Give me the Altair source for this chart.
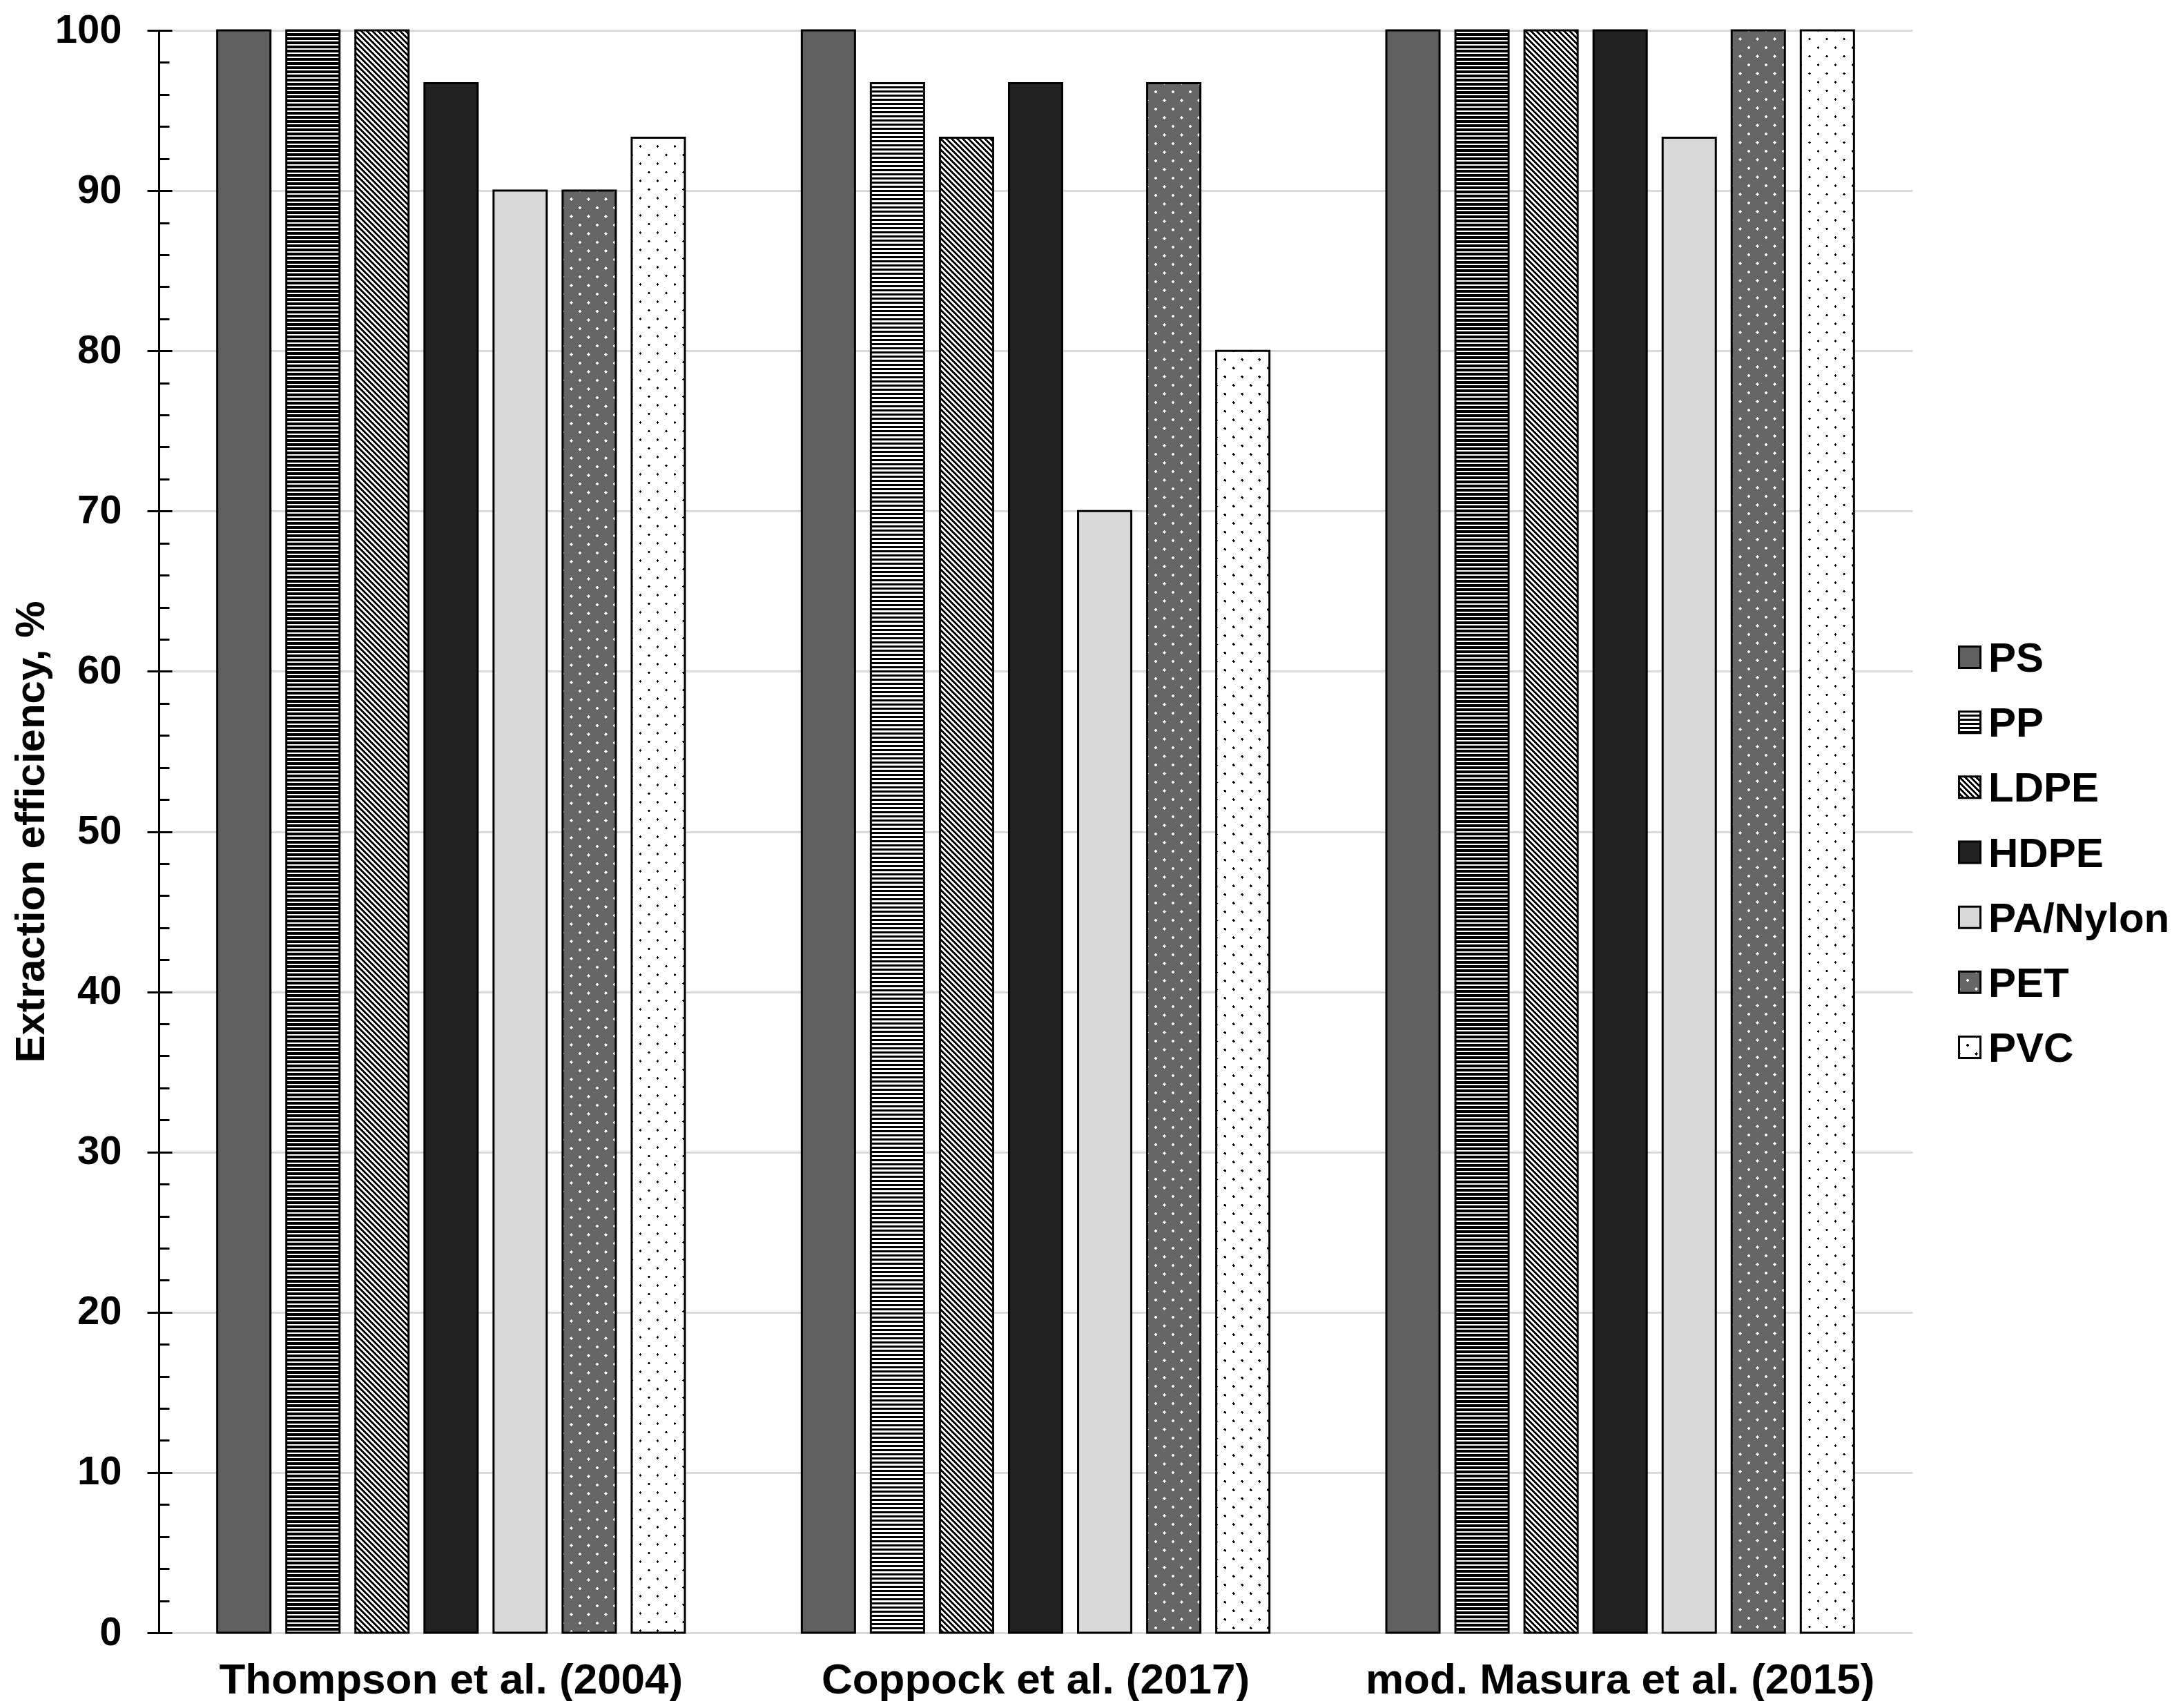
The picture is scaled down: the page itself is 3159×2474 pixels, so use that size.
import math
import altair as alt
import pandas as pd

# ---------------- data ----------------
studies = ["Thompson et al. (2004)", "Coppock et al. (2017)", "mod. Masura et al. (2015)"]
materials = ["PS", "PP", "LDPE", "HDPE", "PA/Nylon", "PET", "PVC"]
thompson = [100, 100, 100, 96.7, 90, 90, 93.3]
coppock = [100, 96.7, 93.3, 96.7, 70, 96.7, 80]
masura = [100, 100, 100, 100, 93.3, 100, 100]
y_ticks = list(range(0, 101, 10))
y_minor = [v for v in range(0, 101, 2) if v % 10]

rows = []
for s, vals in zip(studies, [thompson, coppock, masura]):
    for m, v in zip(materials, vals):
        rows.append({"study": s, "material": m, "value": v})
df = pd.DataFrame(rows)
leg_df = pd.DataFrame({"material": materials})

# ---------------- layout / style ----------------
FONT = "Liberation Sans"
PLOT_W = 2540
PLOT_H = 2321
X_PAD_IN, X_PAD_OUT = 0.2, 0.1
OFF_PAD_IN = 0.23
step_x = PLOT_W / (3 - X_PAD_IN + 2 * X_PAD_OUT)
band_x = step_x * (1 - X_PAD_IN)
step_off = band_x / (7 - OFF_PAD_IN)
BAR_W = step_off * (1 - OFF_PAD_IN)

BASE_COLORS = ["#606060", "#ffffff", "#ffffff", "#222222", "#d9d9d9", "#ffffff", "#000000"]
CLEAR = "rgba(0,0,0,0)"


def band_stops(total, period, band, band_color, bg_color, phase=0.0):
    stops = []

    def add(f, c):
        stops.append({"offset": round(min(max(f / total, 0.0), 1.0), 6), "color": c})

    k = math.floor(-phase / period) - 1
    pos = 0.0
    while True:
        a = phase + k * period - band / 2
        b = a + band
        k += 1
        if b <= 0:
            continue
        if a >= total:
            break
        a = max(a, 0.0)
        b = min(b, total)
        if a > pos:
            add(pos, bg_color)
            add(a, bg_color)
        add(a, band_color)
        add(b, band_color)
        pos = b
    if pos < total:
        add(pos, bg_color)
        add(total, bg_color)
    return stops


def hstripes(H, period, band, color, bg):
    return {"gradient": "linear", "x1": 0, "y1": 0, "x2": 0, "y2": 1,
            "stops": band_stops(H, period, band, color, bg)}


def diag(W, H, period, band, color, bg, up):
    k = (W + H) / (W * W + H * H)
    if up:  # "/" stripes : X+Y constant
        g = {"gradient": "linear", "x1": 0, "y1": 0, "x2": k * W, "y2": k * H}
        phase = 0.0
    else:   # "\" stripes : X-Y constant
        g = {"gradient": "linear", "x1": 0, "y1": 1, "x2": k * W, "y2": 1 - k * H}
        phase = H % period
    g["stops"] = band_stops(W + H, period, band, color, bg, phase)
    return g


def pattern_fills(material, W, H):
    if material == "PP":
        return [hstripes(H, 6.0, 3.5, "#000000", CLEAR)]
    if material == "LDPE":
        return [diag(W, H, 8.0, 4.0, "#000000", CLEAR, up=False)]
    if material == "PET":
        return [diag(W, H, 25.0, 4.7, CLEAR, "#666666", up=True),
                diag(W, H, 25.0, 4.7, CLEAR, "#666666", up=False)]
    if material == "PVC":
        return [diag(W, H, 25.0, 4.5, CLEAR, "#ffffff", up=True),
                diag(W, H, 25.0, 4.5, CLEAR, "#ffffff", up=False)]
    return []


# ---------------- encodings ----------------
x_enc = alt.X("study:N",
              scale=alt.Scale(domain=studies, paddingInner=X_PAD_IN, paddingOuter=X_PAD_OUT),
              axis=alt.Axis(title=None, labelFont=FONT, labelFontWeight="bold", labelFontSize=62,
                            labelColor="black", labelPadding=38, labelLimit=0, ticks=False, tickSize=0,
                            domain=False, grid=False, labelAngle=0))
xoff_enc = alt.XOffset("material:N",
                       scale=alt.Scale(domain=materials, paddingInner=OFF_PAD_IN, paddingOuter=0))
y_scale = alt.Scale(domain=[0, 100], nice=False)
color_scale = alt.Scale(domain=materials, range=BASE_COLORS)

axis_major = alt.Axis(orient="left", values=y_ticks, offset=-19, tickSize=36, tickWidth=3,
                      tickColor="black", domain=False, grid=False,
                      labelFont=FONT, labelFontSize=58, labelFontWeight="bold", labelColor="black",
                      labelPadding=37, title="Extraction efficiency, %", titleFont=FONT,
                      titleFontSize=60, titleFontWeight="bold", titleColor="black", titlePadding=3)
axis_domain = alt.Axis(orient="left", values=y_ticks, domain=True, domainColor="black",
                       domainWidth=3, ticks=False, labels=False, grid=True, gridColor="#d9d9d9",
                       gridWidth=3, title=None, zindex=0)
axis_minor = alt.Axis(orient="left", values=y_minor, offset=-15, tickSize=15, tickWidth=3,
                      tickColor="black", domain=False, labels=False, grid=False, title=None)


def y_enc(axis):
    return alt.Y("value:Q", scale=y_scale, stack=None, axis=axis)


base = alt.Chart(df).mark_bar(strokeWidth=0).encode(
    x=x_enc, xOffset=xoff_enc, y=y_enc(axis_major),
    color=alt.Color("material:N", scale=color_scale, legend=None))

pattern_layers = []
first = True
for s, vals in zip(studies, [thompson, coppock, masura]):
    for m, v in zip(materials, vals):
        H = v / 100.0 * PLOT_H
        for g in pattern_fills(m, BAR_W, H):
            ax = axis_minor if first else None
            first = False
            pattern_layers.append(
                alt.Chart(df)
                .transform_filter((alt.datum.study == s) & (alt.datum.material == m))
                .mark_bar(fill=g, strokeWidth=0)
                .encode(x=x_enc, xOffset=xoff_enc, y=y_enc(ax))
            )

outline = alt.Chart(df).mark_bar(fillOpacity=0, stroke="black", strokeWidth=3).encode(
    x=x_enc, xOffset=xoff_enc, y=y_enc(axis_domain))

main = alt.layer(base, *pattern_layers, outline).resolve_axis(y="independent").properties(
    width=PLOT_W, height=PLOT_H)

# ---------------- legend panel ----------------
SQ = 31
LEG_X = 33
TXT_X = 60
y_leg = alt.Y("material:N", scale=alt.Scale(domain=materials, type="point", range=[908, 1473], padding=0),
              axis=None)
leg_layers = [alt.Chart(leg_df).mark_square(size=SQ * SQ, strokeWidth=0, opacity=1).encode(
    x=alt.value(LEG_X), y=y_leg, color=alt.Color("material:N", scale=color_scale, legend=None))]
for m in materials:
    for g in pattern_fills(m, SQ, SQ):
        leg_layers.append(
            alt.Chart(leg_df).transform_filter(alt.datum.material == m)
            .mark_square(size=SQ * SQ, fill=g, strokeWidth=0, opacity=1)
            .encode(x=alt.value(LEG_X), y=y_leg))
leg_layers.append(alt.Chart(leg_df).mark_square(size=SQ * SQ, fillOpacity=0, stroke="black",
                                                 strokeWidth=3, opacity=1)
                  .encode(x=alt.value(LEG_X), y=y_leg))
leg_layers.append(alt.Chart(leg_df).mark_text(align="left", baseline="middle", font=FONT, fontSize=60,
                                               fontWeight="bold", color="black", dy=3)
                  .encode(x=alt.value(TXT_X), y=y_leg, text="material:N"))
legend = alt.layer(*leg_layers).properties(width=330, height=PLOT_H)

chart = alt.hconcat(main, legend, spacing=50).properties(
    padding={"top": 7, "left": 7, "right": 0, "bottom": 0}).configure_view(strokeWidth=0)

chart.save("out.html", embed_options={"renderer": "svg", "actions": False})
